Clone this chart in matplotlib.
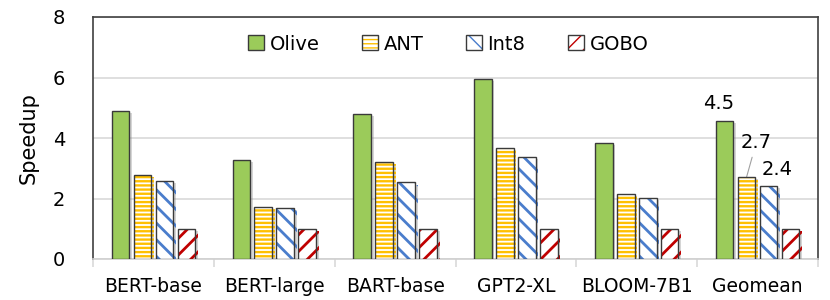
import matplotlib
matplotlib.use("Agg")
import matplotlib.pyplot as plt
from matplotlib.patches import Patch
import matplotlib.patheffects as pe
import numpy as np

categories = ["BERT-base", "BERT-large", "BART-base", "GPT2-XL", "BLOOM-7B1", "Geomean"]
series_names = ["Olive", "ANT", "Int8", "GOBO"]
olive = [4.89, 3.27, 4.79, 5.95, 3.83, 4.55]
ant = [2.77, 1.72, 3.20, 3.67, 2.15, 2.71]
int8 = [2.58, 1.68, 2.53, 3.37, 2.01, 2.42]
gobo = [1.0, 1.0, 1.0, 1.0, 1.0, 1.0]
yticks = [0, 2, 4, 6, 8]
geo_labels = ["4.5", "2.7", "2.4"]

plt.rcParams['font.family'] = ['DejaVu Sans']

fig = plt.figure(figsize=(8.3, 3.0), dpi=100)
ax = fig.add_axes([93/830, 1-259/300, 725/830, 242/300])

styles = [
    dict(face="#9BCB5A", hatch=None, hcol=None, hlw=1.0),
    dict(face="white", hatch="----", hcol="#FFC000", hlw=1.7),
    dict(face="white", hatch="\\\\", hcol="#4A7DCC", hlw=2.0),
    dict(face="white", hatch="//", hcol="#C00000", hlw=2.0),
]
data = [olive, ant, int8, gobo]
x = np.arange(len(categories))
bw = 0.145
step = 0.182
edge = "#3A3A3A"
shadow = [pe.SimplePatchShadow(offset=(2, -1.5), shadow_rgbFace="#888888", alpha=0.35), pe.Normal()]


def set_hlw(p, lw):
    if hasattr(p, "set_hatch_linewidth"):
        p.set_hatch_linewidth(lw)


handles = []
for i, (vals, st) in enumerate(zip(data, styles)):
    xs = x + (i - 1.5) * step
    with plt.rc_context({'hatch.linewidth': st["hlw"]}):
        if st["hatch"] is None:
            ax.bar(xs, vals, bw, color=st["face"], edgecolor=edge, linewidth=1.0, zorder=3,
                   path_effects=shadow)
            handles.append(Patch(facecolor=st["face"], edgecolor=edge, linewidth=1.0))
        else:
            bars = ax.bar(xs, vals, bw, color="white", edgecolor=st["hcol"], hatch=st["hatch"],
                          linewidth=0, zorder=3, path_effects=shadow)
            for b in bars:
                set_hlw(b, st["hlw"])
            ax.bar(xs, vals, bw, fill=False, edgecolor=edge, linewidth=1.0, zorder=4)
            hp = Patch(facecolor="white", edgecolor=st["hcol"], hatch=st["hatch"], linewidth=0)
            set_hlw(hp, st["hlw"])
            handles.append((hp, Patch(fill=False, edgecolor=edge, linewidth=1.0)))

ax.set_xlim(-0.5, len(categories) - 0.5)
ax.set_ylim(0, 8)
ax.set_yticks(yticks)
ax.set_yticklabels([str(t) for t in yticks], fontsize=14)
ax.yaxis.grid(True, color="#D9D9D9", linewidth=1.2, zorder=0)
ax.set_axisbelow(True)
ax.set_xticks(x)
ax.set_xticklabels(categories, fontsize=13.5)
ax.tick_params(axis='x', length=0, pad=13)
ax.tick_params(axis='y', length=0, pad=20)
ax.set_xticks(np.arange(len(categories) + 1) - 0.5, minor=True)
ax.tick_params(axis='x', which='minor', length=6, color="#D9D9D9", width=1.2)
for s in ["left", "top", "right"]:
    ax.spines[s].set_color("#404040")
    ax.spines[s].set_linewidth(1.2)
ax.spines["bottom"].set_color("#D0D0D0")
ax.spines["bottom"].set_linewidth(1.2)
ax.set_ylabel("Speedup", fontsize=15, labelpad=10)

ax.legend(handles, series_names, loc="upper center", ncol=4, frameon=False, fontsize=14,
          bbox_to_anchor=(0.49, 1.0), handlelength=0.8, handleheight=0.8,
          columnspacing=2.2, handletextpad=0.3)

gi = len(categories) - 1
ax.annotate(geo_labels[0], xy=(x[gi] - 1.5 * step, olive[gi]), xytext=(-4, 13),
            textcoords="offset points", ha="center", va="center", fontsize=14)
ax.annotate(geo_labels[1], xy=(x[gi] - 0.5 * step, ant[gi]), xytext=(7, 25),
            textcoords="offset points", ha="center", va="center", fontsize=14,
            arrowprops=dict(arrowstyle="-", color="#A0A0A0", lw=0.8, shrinkA=2, shrinkB=0))
ax.annotate(geo_labels[2], xy=(x[gi] + 0.5 * step, int8[gi]), xytext=(6, 12),
            textcoords="offset points", ha="center", va="center", fontsize=14)

fig.savefig("out.png", dpi=100)
